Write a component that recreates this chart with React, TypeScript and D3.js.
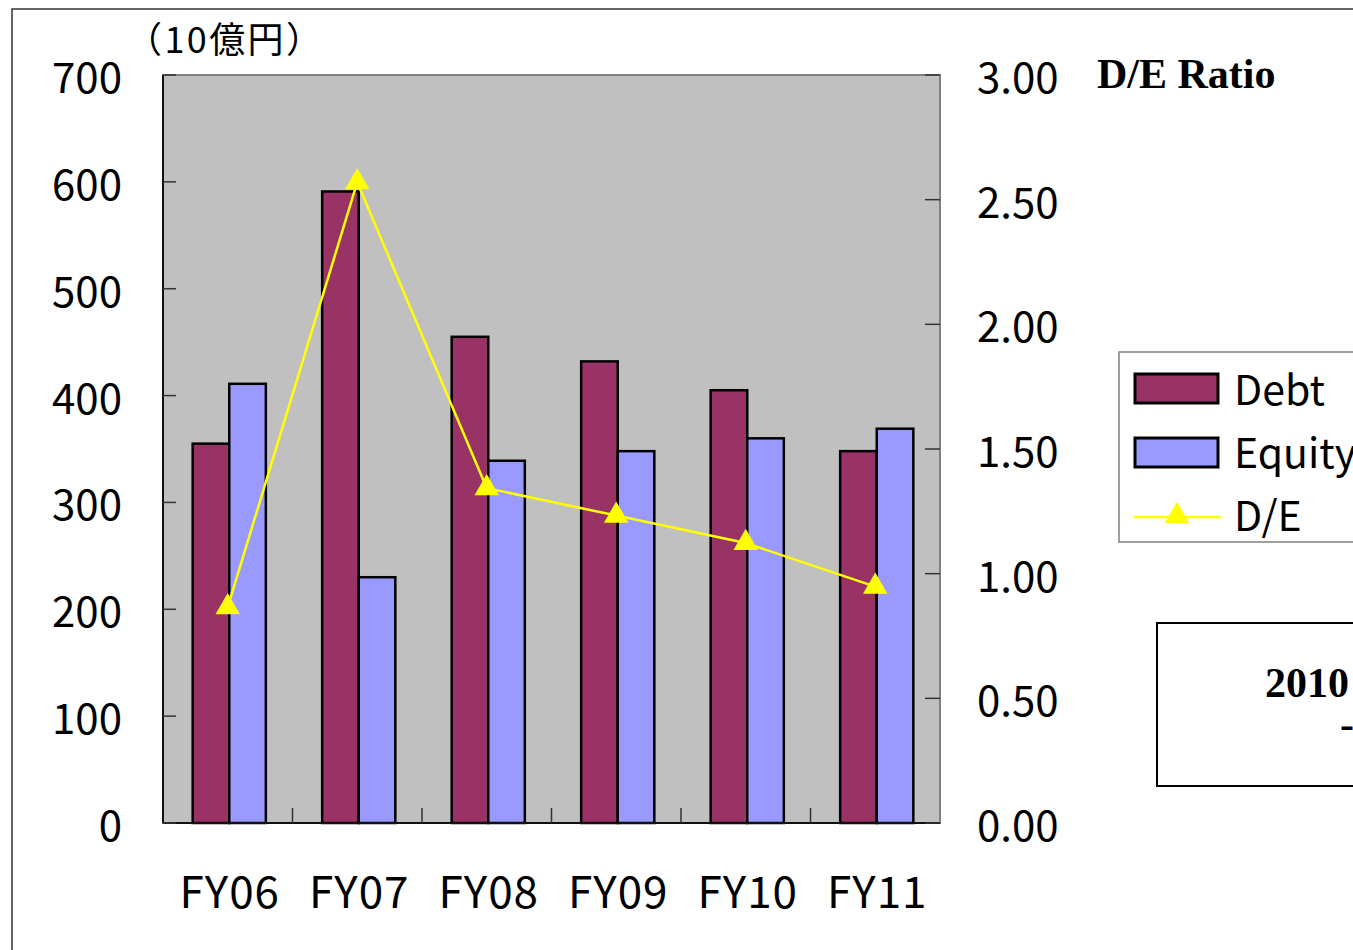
import React from "react";
import * as d3 from "d3";

const categories = ["FY06", "FY07", "FY08", "FY09", "FY10", "FY11"];
const debt = [355, 591, 455, 432, 405, 348];
const equity = [411, 230, 339, 348, 360, 369];
const deRatio = [0.866, 2.57, 1.343, 1.233, 1.123, 0.948];
const leftTicks = [0, 100, 200, 300, 400, 500, 600, 700];
const rightTicks = [0, 0.5, 1, 1.5, 2, 2.5, 3];
const seriesNames = ["Debt", "Equity"];
const legendLabels = ["Debt", "Equity", "D/E"];

const DEBT_COLOR = "#993366";
const EQUITY_COLOR = "#9999FF";
const LINE_COLOR = "#FFFF00";
const GOTHIC = "'Noto Sans CJK JP', 'Noto Sans', sans-serif";
const SERIF = "'Liberation Serif', 'DejaVu Serif', serif";

export default function App() {
  const W = 1353, H = 950;
  const left = 163, right = 940, top = 75, bottom = 823;

  const x0 = d3.scaleBand<string>().domain(categories).range([left, right]).paddingInner(0).paddingOuter(0);
  const x1 = d3.scaleBand<string>().domain(seriesNames).range([0, x0.bandwidth()]).paddingInner(0).paddingOuter(0.77);
  const yL = d3.scaleLinear().domain([0, 700]).range([bottom, top]);
  const yR = d3.scaleLinear().domain([0, 3]).range([bottom, top]);

  const line = d3.line<number>()
    .x((_, i) => (x0(categories[i]) as number) + x0.bandwidth() / 2)
    .y((d) => yR(d));

  const tri = d3.symbol().type(d3.symbolTriangle).size(260)();

  const values = [debt, equity];
  const colors = [DEBT_COLOR, EQUITY_COLOR];

  return (
    <svg width={W} height={H} style={{ position: "absolute", left: 0, top: 0, background: "#fff" }}>
      {/* outer frame */}
      <rect x={12} y={9} width={1400} height={1000} fill="#fff" stroke="#333" strokeWidth={1.5} />

      {/* plot area */}
      <rect x={left} y={top} width={right - left} height={bottom - top} fill="#C0C0C0" stroke="#808080" strokeWidth={2} />

      {/* bars */}
      {categories.map((c, i) => (
        <g key={c}>
          {seriesNames.map((s, k) => {
            const xx = (x0(c) as number) + (x1(s) as number) + 1.5;
            const yy = yL(values[k][i]);
            return (
              <rect key={s} x={xx} y={yy} width={x1.bandwidth()} height={bottom - yy}
                fill={colors[k]} stroke="#000" strokeWidth={2.5} />
            );
          })}
        </g>
      ))}

      {/* axes lines */}
      <line x1={left} x2={left} y1={top} y2={bottom} stroke="#111" strokeWidth={2} />
      <line x1={left} x2={right} y1={bottom} y2={bottom} stroke="#111" strokeWidth={2} />

      {/* left ticks + labels */}
      {leftTicks.map((t) => (
        <g key={"l" + t}>
          <line x1={left} x2={left + 13} y1={yL(t)} y2={yL(t)} stroke="#333" strokeWidth={1.5} />
          <text x={122} y={yL(t) + 18} textAnchor="end" fontFamily={GOTHIC} fontSize={42} fill="#000">{t}</text>
        </g>
      ))}

      {/* right ticks + labels */}
      {rightTicks.map((t) => (
        <g key={"r" + t}>
          <line x1={right - 15} x2={right} y1={yR(t)} y2={yR(t)} stroke="#333" strokeWidth={1.5} />
          <text x={977} y={yR(t) + 18} textAnchor="start" fontFamily={GOTHIC} fontSize={42} fill="#000">{t.toFixed(2)}</text>
        </g>
      ))}

      {/* category ticks & labels */}
      {categories.slice(1).map((c) => (
        <line key={"t" + c} x1={x0(c) as number} x2={x0(c) as number} y1={bottom} y2={bottom - 15} stroke="#333" strokeWidth={1.5} />
      ))}
      {categories.map((c) => (
        <text key={"c" + c} x={(x0(c) as number) + x0.bandwidth() / 2 + 2} y={908} textAnchor="middle"
          fontFamily={GOTHIC} fontSize={44} letterSpacing={1} fill="#000">{c}</text>
      ))}

      {/* D/E line */}
      <path d={line(deRatio) as string} fill="none" stroke={LINE_COLOR} strokeWidth={2.5} />
      {deRatio.map((d, i) => (
        <path key={"m" + i} d={tri as string}
          transform={`translate(${(x0(categories[i]) as number) + x0.bandwidth() / 2},${yR(d)})`} fill={LINE_COLOR} />
      ))}

      {/* unit title */}
      <text x={126} y={53} fontFamily={GOTHIC} fontSize={36} fill="#000" textLength={196} lengthAdjust="spacing">（10億円）</text>

      {/* right axis title */}
      <text x={1097} y={88} fontFamily={SERIF} fontWeight="bold" fontSize={42} fill="#000">D/E Ratio</text>

      {/* legend */}
      <rect x={1119} y={352} width={300} height={190} fill="#fff" stroke="#808080" strokeWidth={1.5} />
      <rect x={1135} y={374} width={83} height={29} fill={DEBT_COLOR} stroke="#000" strokeWidth={3} />
      <rect x={1135} y={438} width={83} height={29} fill={EQUITY_COLOR} stroke="#000" strokeWidth={3} />
      <line x1={1134} x2={1221} y1={517} y2={517} stroke={LINE_COLOR} strokeWidth={2.5} />
      <path d={tri as string} transform="translate(1177,516)" fill={LINE_COLOR} />
      {legendLabels.map((l, i) => (
        <text key={l} x={1234} y={405 + i * 63} fontFamily={GOTHIC} fontSize={41} fill="#000">{l}</text>
      ))}

      {/* note box */}
      <rect x={1157} y={623} width={300} height={163} fill="#fff" stroke="#000" strokeWidth={2} />
      <text x={1265} y={697} fontFamily={SERIF} fontWeight="bold" fontSize={42} fill="#000">2010</text>
      <text x={1340} y={738} fontFamily={SERIF} fontWeight="bold" fontSize={42} fill="#000">-</text>
    </svg>
  );
}
